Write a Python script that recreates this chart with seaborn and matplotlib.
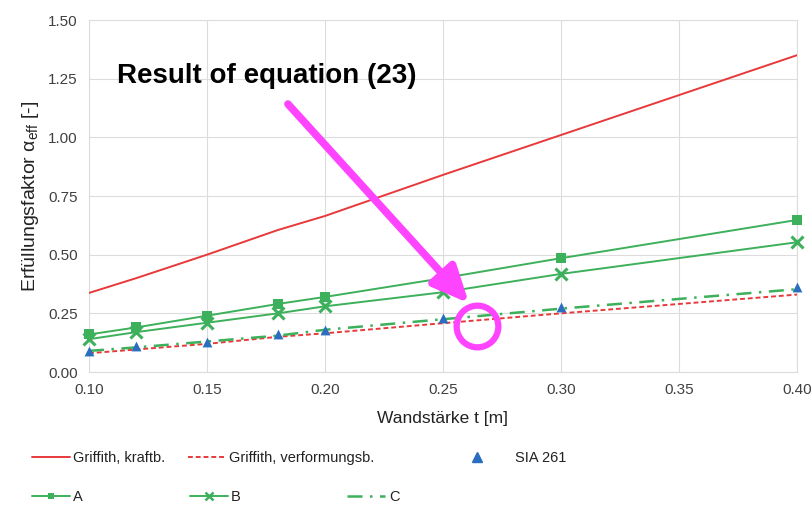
import matplotlib
matplotlib.use("Agg")
import matplotlib.pyplot as plt
from matplotlib.lines import Line2D
import seaborn as sns
import pandas as pd

# Wall thickness t [m]
t = [0.10, 0.12, 0.15, 0.18, 0.20, 0.25, 0.30, 0.40]

griffith_kraft = [0.337, 0.40, 0.50, 0.605, 0.665, 0.84, 1.01, 1.35]
griffith_verf = [0.08, 0.096, 0.12, 0.15, 0.165, 0.208, 0.25, 0.33]
sia_261 = [0.09, 0.11, 0.13, 0.16, 0.18, 0.23, 0.277, 0.363]
series_a = [0.16, 0.19, 0.24, 0.29, 0.32, 0.40, 0.485, 0.648]
series_b = [0.14, 0.17, 0.21, 0.25, 0.28, 0.34, 0.418, 0.553]
series_c = [0.09, 0.105, 0.13, 0.155, 0.18, 0.225, 0.27, 0.353]

x_ticks = [0.10, 0.15, 0.20, 0.25, 0.30, 0.35, 0.40]
y_ticks = [0.00, 0.25, 0.50, 0.75, 1.00, 1.25, 1.50]

# Annotation geometry (data units)
note_text = "Result of equation (23)"
arrow_tail = (0.1843, 1.142)
arrow_head = (0.2610, 0.293)
ring_center = (0.2643, 0.196)

RED = "#e8393a"
GREEN = "#3cb05a"
BLUE = "#2a6fbf"
MAGENTA = "#ff44ff"

sns.set_style("whitegrid", {"grid.color": "#dcdcdc", "axes.edgecolor": "#dcdcdc"})
plt.rcParams["font.family"] = ["Liberation Sans", "DejaVu Sans"]
plt.rcParams["mathtext.fontset"] = "custom"
plt.rcParams["mathtext.rm"] = "Liberation Sans"
plt.rcParams["mathtext.it"] = "Liberation Sans"

df = pd.DataFrame({
    "t": t,
    "Griffith, kraftb.": griffith_kraft,
    "Griffith, verformungsb.": griffith_verf,
    "SIA 261": sia_261,
    "A": series_a,
    "B": series_b,
    "C": series_c,
})

fig = plt.figure(figsize=(8.12, 5.12), dpi=100)
ax = fig.add_axes([0.1096, 0.2734, 0.8719, 0.6875])

sns.lineplot(data=df, x="t", y="Griffith, kraftb.", ax=ax, color=RED, lw=1.4, zorder=3)
sns.lineplot(data=df, x="t", y="Griffith, verformungsb.", ax=ax, color=RED, lw=1.4,
             linestyle=(0, (2.5, 1.5)), zorder=3)
sns.lineplot(data=df, x="t", y="C", ax=ax, color=GREEN, lw=1.8,
             linestyle=(0, (6, 3, 1, 3)), zorder=3)
sns.lineplot(data=df, x="t", y="A", ax=ax, color=GREEN, lw=1.4, clip_on=False, zorder=4,
             marker="s", markersize=7, markeredgewidth=0, markeredgecolor=GREEN)
sns.lineplot(data=df, x="t", y="B", ax=ax, color=GREEN, lw=1.4, clip_on=False, zorder=4,
             marker="x", markersize=8, markeredgewidth=2.2, markeredgecolor=GREEN)
sns.scatterplot(data=df, x="t", y="SIA 261", ax=ax, color=BLUE, marker="^",
                s=50, linewidth=0, zorder=5, clip_on=False)

ax.set_xlim(0.10, 0.40)
ax.set_ylim(0.0, 1.5)
ax.set_xticks(x_ticks)
ax.set_yticks(y_ticks)
ax.set_xticklabels([f"{v:.2f}" for v in x_ticks])
ax.set_yticklabels([f"{v:.2f}" for v in y_ticks])
ax.tick_params(axis="both", labelsize=11, labelcolor="#404040", length=0, pad=8)
ax.set_xlabel("Wandstärke t [m]", fontsize=12.5, color="#222222", labelpad=10)
ax.set_ylabel(r"Erfüllungsfaktor $\alpha_{\mathrm{eff}}$ [-]", fontsize=14,
              color="#222222", labelpad=5)
for s in ax.spines.values():
    s.set_color("#dcdcdc")

# Callout
ax.text(0.1117, 1.262, note_text, fontsize=20, fontweight="bold", color="black",
        va="center", ha="left")
ax.annotate("", xy=arrow_head, xytext=arrow_tail,
            arrowprops=dict(arrowstyle="-|>,head_length=2.2,head_width=1.0",
                            color=MAGENTA, lw=5.5, shrinkA=0, shrinkB=0),
            zorder=7)
ax.plot([ring_center[0]], [ring_center[1]], marker="o", markersize=30,
        fillstyle="none", markeredgewidth=4.5, color=MAGENTA, zorder=7)

# Legend entries, two rows below the axis
entries = [
    (Line2D([], [], color=RED, lw=1.4), "Griffith, kraftb.", 32, 458, 0.2),
    (Line2D([], [], color=RED, lw=1.4, linestyle=(0, (2.5, 1.5))),
     "Griffith, verformungsb.", 188, 458, 0.2),
    (Line2D([], [], color=BLUE, marker="^", lw=0, markersize=7), "SIA 261", 458, 458, 1.3),
    (Line2D([], [], color=GREEN, lw=1.4, marker="s", markersize=5, markeredgewidth=0),
     "A", 32, 497, 0.2),
    (Line2D([], [], color=GREEN, lw=1.4, marker="x", markersize=6, markeredgewidth=1.8),
     "B", 190, 497, 0.2),
    (Line2D([], [], color=GREEN, lw=1.8, linestyle=(0, (6, 3, 1, 3))), "C", 347, 497, 0.3),
]
for handle, label, px, py, pad in entries:
    leg = fig.legend([handle], [label], loc="center left",
                     bbox_to_anchor=(px / 812, 1 - py / 512),
                     frameon=False, fontsize=10.5, handlelength=2.6,
                     handletextpad=pad, borderpad=0, borderaxespad=0)
    for txt in leg.get_texts():
        txt.set_color("#222222")

fig.savefig("out.png", dpi=100)
